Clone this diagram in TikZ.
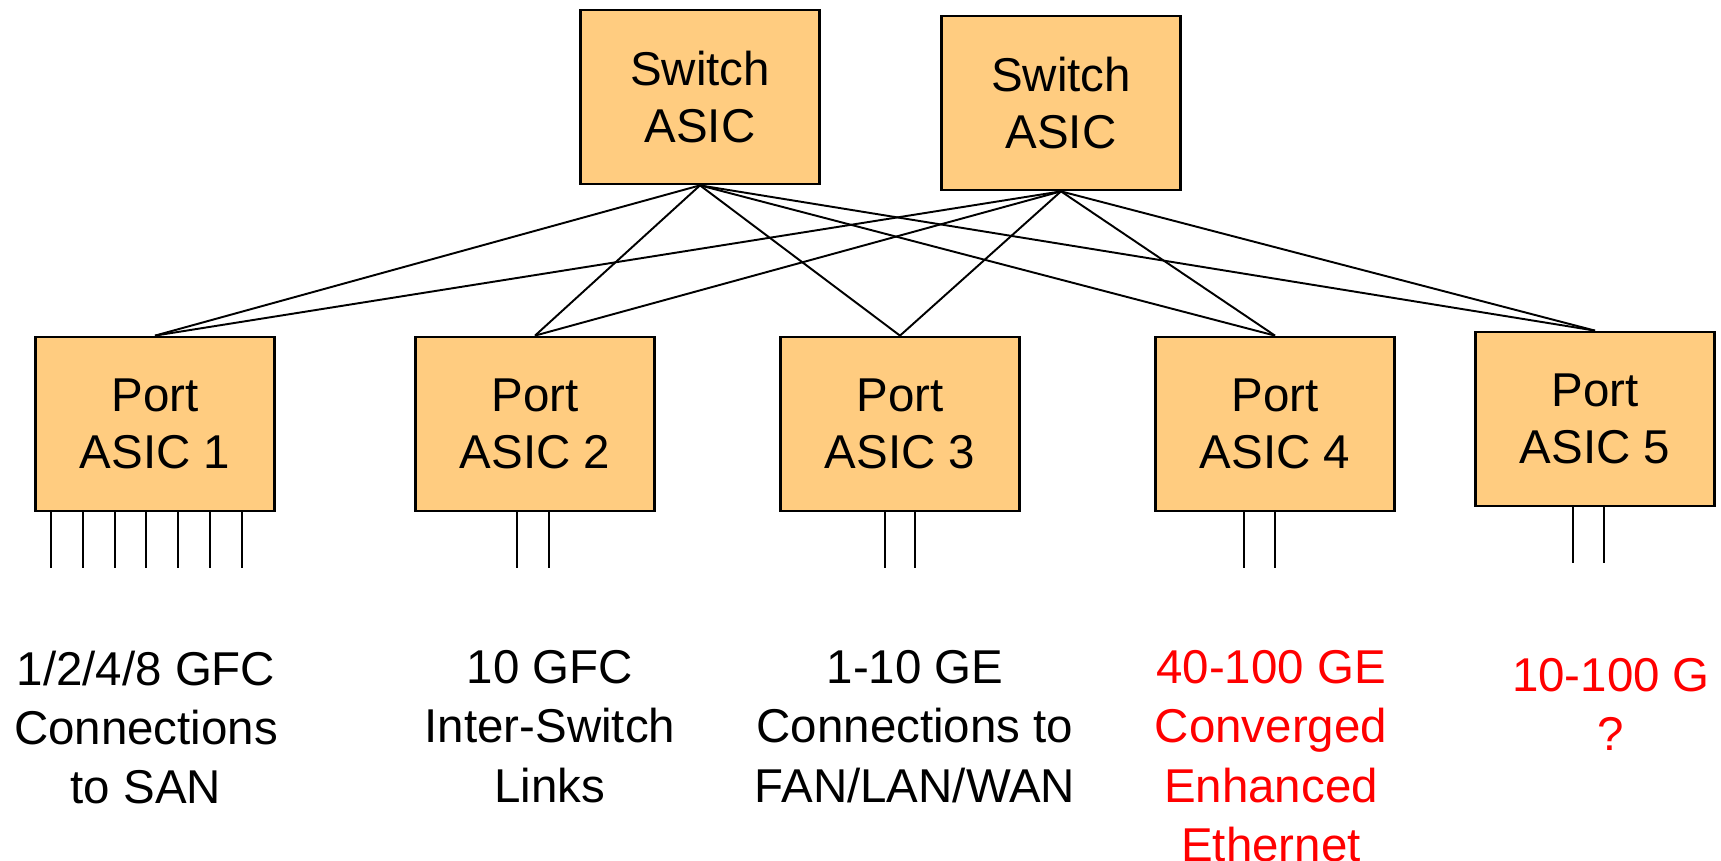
\documentclass[tikz,border=0pt]{standalone}
\usepackage{fontspec}
\setmainfont{Liberation Sans}
\usetikzlibrary{calc}

\definecolor{asicfill}{RGB}{255,204,128}

\begin{document}
\begin{tikzpicture}[x=0.01cm,y=-0.01cm,
    asic/.style={rectangle, draw, line width=0.75pt, fill=asicfill, align=center,
      minimum width=2.39cm, minimum height=1.74cm, font=\fontsize{13.5}{16.4}\selectfont},
    txt/.style={align=center, anchor=north, inner sep=0pt, font=\fontsize{13.5}{16.8}\selectfont},
    link/.style={line width=0.55pt}]
      \useasboundingbox (0,0) rectangle (1721,861);
      % switch chips on top
      \node [asic] (sw1) at (700,97) {Switch\\ASIC};
      \node [asic] (sw2) at (1061,103) {Switch\\ASIC};
      % port chips
      \node [asic] (p1) at (155,424) {Port\\ASIC 1};
      \node [asic] (p2) at (535,424) {Port\\ASIC 2};
      \node [asic] (p3) at (900,424) {Port\\ASIC 3};
      \node [asic] (p4) at (1275,424) {Port\\ASIC 4};
      \node [asic] (p5) at (1595,419) {Port\\ASIC 5};
      % every switch talks to every port
      \foreach \s in {sw1,sw2}
        \foreach \p in {1,...,5}
          \draw [link] (\s.south) -- (p\p.north);
      % external links
      \foreach \dx in {-104,-72.2,-40.4,-8.6,23.2,55,86.8}
        \draw [link] (p1.south) ++(\dx,0) -- ++(0,56);
      \foreach \dx in {-18,14}
        \draw [link] (p2.south) ++(\dx,0) -- ++(0,56);
      \foreach \dx in {-15,15}
        \draw [link] (p3.south) ++(\dx,0) -- ++(0,56);
      \foreach \dx in {-31,0}
        \draw [link] (p4.south) ++(\dx,0) -- ++(0,56);
      \foreach \dx in {-22,9}
        \draw [link] (p5.south) ++(\dx,0) -- ++(0,56);
      % what hangs off each port
      \node [txt] (t1) at (146,650) {1/2/4/8 GFC\\Connections\\to SAN};
      \node [txt] (t2) at (550,650) {10 GFC\\Inter-Switch\\Links};
      \node [txt] (t3) at (915,650) {1-10 GE\\Connections to\\FAN/LAN/WAN};
      \node [txt,red] (t4) at (1271,650) {40-100 GE\\Converged\\Enhanced\\Ethernet};
      \node [txt,red] (t5) at (1611,658) {10-100 G\\?};
    \end{tikzpicture}
\end{document}
